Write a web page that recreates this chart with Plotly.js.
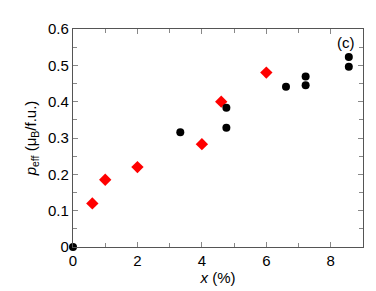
<!DOCTYPE html>
<html><head><meta charset="utf-8">
<script src="https://cdn.plot.ly/plotly-3.0.1.min.js"></script>
<style>body{margin:0;padding:0;background:#fff}#chart{width:376px;height:291px}</style>
</head><body><div id="chart"></div>
<script>
const redX = [0.6, 1.0, 2.0, 4.0, 4.6, 6.0];
const redY = [0.120, 0.185, 0.220, 0.283, 0.400, 0.480];
const blackX = [0, 3.33, 4.76, 4.76, 6.61, 7.22, 7.22, 8.56, 8.56];
const blackY = [0, 0.316, 0.383, 0.328, 0.441, 0.469, 0.445, 0.523, 0.496];
const xTicks = [0, 2, 4, 6, 8];
const yTicks = [0, 0.1, 0.2, 0.3, 0.4, 0.5, 0.6];

const data = [
  {x: redX, y: redY, type: 'scatter', mode: 'markers', cliponaxis: false,
   marker: {symbol: 'diamond', size: 9.5, color: '#ff0000'}},
  {x: blackX, y: blackY, type: 'scatter', mode: 'markers', cliponaxis: false,
   marker: {symbol: 'circle', size: 8, color: '#000000'}}
];
const axisCommon = {
  showgrid: false, zeroline: false, showline: true, linecolor: '#555', linewidth: 1.2,
  mirror: 'allticks', ticks: 'inside', ticklen: 5, tickcolor: '#888', tickwidth: 1,
  tickfont: {family: 'Liberation Sans, Arial, sans-serif', size: 15, color: '#000'}
};
const layout = {
  width: 376, height: 291,
  margin: {l: 73, r: 13, t: 29, b: 44},
  paper_bgcolor: '#fff', plot_bgcolor: '#fff',
  showlegend: false,
  xaxis: Object.assign({}, axisCommon, {
    range: [0, 9], tickvals: xTicks, ticktext: xTicks.map(String),
    minor: {dtick: 1, tick0: 0, ticks: 'inside', ticklen: 4, tickcolor: '#888'},
    title: {text: '<i>x</i> (%)', standoff: 0, font: {family: 'Liberation Sans, Arial, sans-serif', size: 15, color: '#000'}}
  }),
  yaxis: Object.assign({}, axisCommon, {
    range: [0, 0.6], tickvals: yTicks, ticktext: yTicks.map(v => String(v)),
    minor: {dtick: 0.05, tick0: 0, ticks: 'inside', ticklen: 4, tickcolor: '#888'},
    title: {text: '<i>p</i><sub>eff</sub> (μ<sub>B</sub>/f.u.)', standoff: 7, font: {family: 'Liberation Sans, Arial, sans-serif', size: 15, color: '#000'}}
  }),
  annotations: [{
    text: '(c)', xref: 'paper', yref: 'paper', x: 0.941, y: 0.94, xanchor: 'center', yanchor: 'middle', showarrow: false,
    font: {family: 'Liberation Sans, Arial, sans-serif', size: 15, color: '#000'}
  }]
};
Plotly.newPlot('chart', data, layout, {displayModeBar: false, staticPlot: true});
</script></body></html>
